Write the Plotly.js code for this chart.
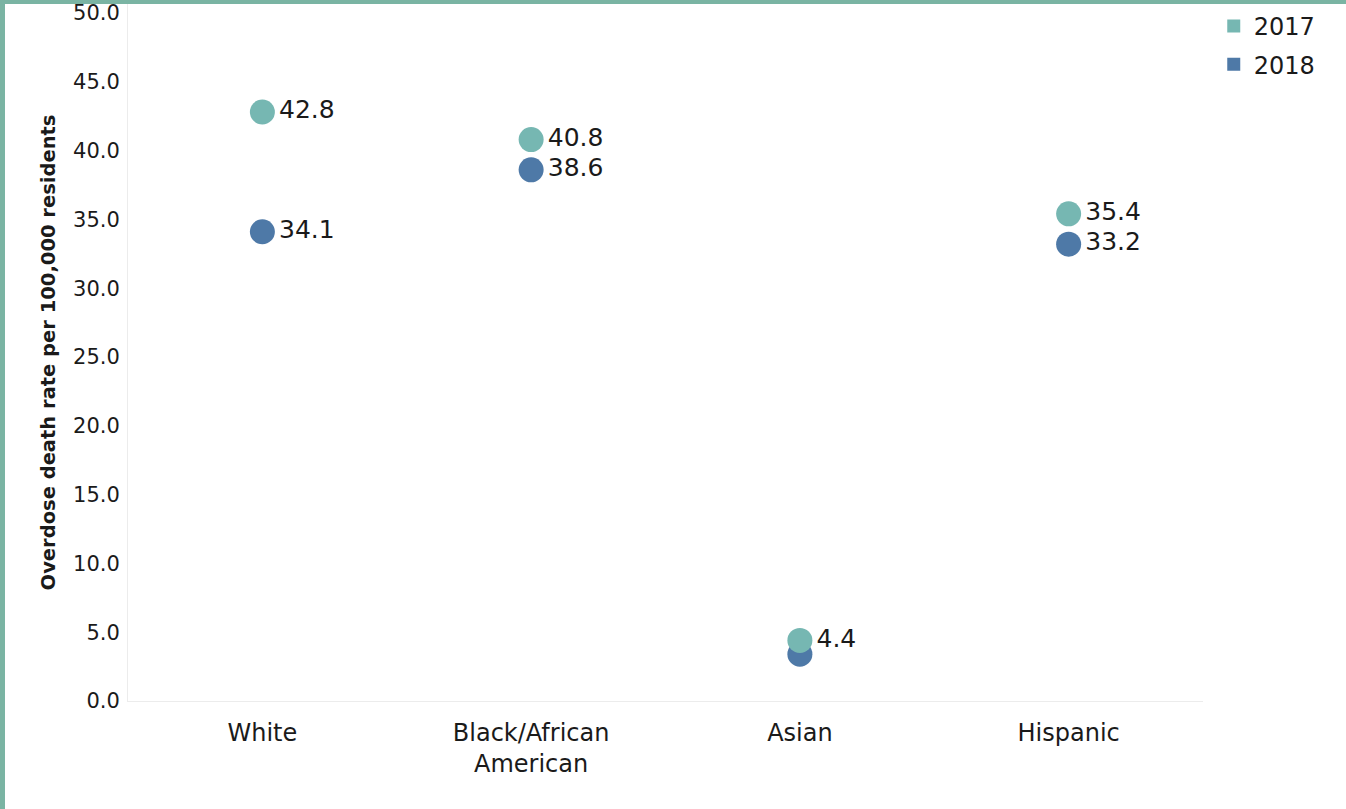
<!DOCTYPE html>
<html>
<head>
<meta charset="utf-8">
<script src="https://cdn.plot.ly/plotly-3.0.1.min.js"></script>
<style>
  html, body { margin: 0; padding: 0; background: #ffffff; }
  #wrap { position: relative; width: 1346px; height: 809px; overflow: hidden; }
  #chart { position: absolute; left: 0; top: 0; width: 1346px; height: 809px; }
  #frame { position: absolute; left: 0; top: 0; width: 1346px; height: 809px; box-sizing: border-box;
           border-left: 5px solid #7ab4a3; border-top: 4px solid #7ab4a3; pointer-events: none; }
</style>
</head>
<body>
<div id="wrap">
  <div id="chart"></div>
  <div id="frame"></div>
</div>
<script>
// ---- data ----
const categories = ["White", "Black/African<br>American", "Asian", "Hispanic"];
const series2017 = [42.8, 40.8, 4.4, 35.4];
const series2018 = [34.1, 38.6, 3.4, 33.2];
const seriesNames = ["2017", "2018"];
const show2018Label = [true, true, false, true];
const yTickValues = [0, 5, 10, 15, 20, 25, 30, 35, 40, 45, 50];

const color2017 = "#76b7b2";
const color2018 = "#4e79a7";
const FONT = "DejaVu Sans, Verdana, sans-serif";
const labelFont = { family: FONT, size: 25, color: "#1a1a1a" };

function makeText(vals, showFlags) {
  return vals.map((v, i) => (showFlags && !showFlags[i]) ? "" : v.toFixed(1));
}

const traces = [
  {
    type: "scatter", mode: "markers+text", name: seriesNames[1],
    x: categories, y: series2018,
    text: makeText(series2018, show2018Label),
    textposition: "middle right", textfont: labelFont,
    marker: { color: color2018, size: 25 },
    showlegend: false, hoverinfo: "x+y+name"
  },
  {
    type: "scatter", mode: "markers+text", name: seriesNames[0],
    x: categories, y: series2017,
    text: makeText(series2017, null),
    textposition: "middle right", textfont: labelFont,
    marker: { color: color2017, size: 25 },
    showlegend: false, hoverinfo: "x+y+name"
  },
  // legend-only entries (square swatches)
  {
    type: "scatter", mode: "markers", name: seriesNames[0], legendgroup: "a",
    x: [null], y: [null], marker: { color: color2017, symbol: "square", size: 13 },
    showlegend: true, hoverinfo: "skip"
  },
  {
    type: "scatter", mode: "markers", name: seriesNames[1], legendgroup: "b",
    x: [null], y: [null], marker: { color: color2018, symbol: "square", size: 13 },
    showlegend: true, hoverinfo: "skip"
  }
];

const layout = {
  width: 1346, height: 809,
  paper_bgcolor: "#ffffff", plot_bgcolor: "#ffffff",
  margin: { l: 128, r: 143, t: 4, b: 108 },
  font: { family: FONT, color: "#1a1a1a" },
  showlegend: true,
  legend: {
    x: 1.01, y: 1, xanchor: "left", yanchor: "top",
    font: { family: FONT, size: 24, color: "#1a1a1a" },
    bgcolor: "rgba(0,0,0,0)", traceorder: "grouped",
    tracegroupgap: 4, itemwidth: 30
  },
  xaxis: {
    type: "category",
    range: [-0.5, 3.5],
    showgrid: false, zeroline: false,
    showline: true, linecolor: "#ececec", linewidth: 1,
    ticks: "", tickfont: { family: FONT, size: 24, color: "#1a1a1a" },
    ticklabelstandoff: 10,
    fixedrange: true
  },
  yaxis: {
    range: [0, 50.65],
    tickvals: yTickValues,
    tickformat: ".1f",
    showgrid: false, zeroline: false,
    showline: true, linecolor: "#ececec", linewidth: 1,
    ticks: "", tickfont: { family: FONT, size: 21, color: "#1a1a1a" },
    ticklabelstandoff: 3,
    ticklabeloverflow: "allow",
    title: {
      text: "<b>Overdose death rate per 100,000 residents</b>",
      font: { family: FONT, size: 19.5, color: "#1a1a1a" },
      standoff: 12
    },
    fixedrange: true
  }
};

Plotly.newPlot("chart", traces, layout, { displayModeBar: false });
</script>
</body>
</html>
